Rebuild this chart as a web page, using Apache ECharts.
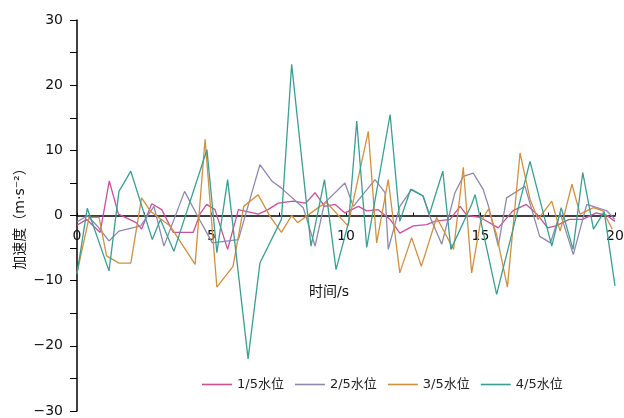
<!DOCTYPE html>
<html>
<head>
<meta charset="utf-8">
<script src="https://cdn.jsdelivr.net/npm/echarts@6/dist/echarts.min.js"></script>
<style>
  html, body { margin: 0; padding: 0; background: #fff; }
  #chart { width: 624px; height: 418px; }
</style>
</head>
<body>
<div id="chart"></div>
<script>
// Series names and colours
const seriesNames = ['1/5水位', '2/5水位', '3/5水位', '4/5水位'];
const seriesColors = ['#c8509c', '#8e88b0', '#d09040', '#3a9e92'];

// [time s, acceleration m/s^2]
const level1 = [
  [0, -1.5], [0.36, -0.6], [0.86, -2.6], [1.2, 5.3], [1.54, 0.2], [2.2, -1.1],
  [2.4, -2.1], [2.78, 1.8], [3.15, 0.9], [3.58, -2.6], [4.32, -2.6], [4.57, 0.2],
  [4.82, 1.7], [5.13, 0.9], [5.6, -5.2], [6.0, 0.9], [6.74, 0.2], [7.1, 0.9],
  [7.48, 1.9], [8.04, 2.2], [8.5, 1.9], [8.85, 3.5], [9.2, 1.4], [9.6, 1.7],
  [9.96, 0.4], [10.46, 1.4], [10.77, 0.7], [11.2, 0.9], [11.64, -0.6], [12.0, -2.7],
  [12.5, -1.6], [13.0, -1.4], [13.3, -0.9], [13.87, -0.6], [14.24, 1.4], [14.5, 0],
  [15.0, -0.3], [15.66, -1.9], [16.2, 0.7], [16.7, 1.7], [17.1, 0.2], [17.5, -1.9],
  [17.8, -1.6], [18.3, -0.6], [18.8, -0.6], [19.3, 0.4], [19.7, 0], [20, -0.9]
];
const level2 = [
  [0, -1], [0.38, 0], [0.75, -1.6], [1.19, -3.9], [1.56, -2.4], [2.06, -1.9],
  [2.37, -1.6], [2.86, 1.4], [3.23, -4.7], [4.0, 3.7], [4.47, 0], [5.03, -4.2],
  [6.0, -3.7], [6.8, 7.8], [7.24, 5.3], [7.6, 4.2], [8.41, 1.2], [8.85, -4.7],
  [9.2, 1.9], [9.96, 5], [10.27, 1.4], [11.08, 5.5], [11.45, 3.5], [11.57, -5.2],
  [12.0, 1.4], [12.44, 4], [12.87, 3], [13.1, 0], [13.56, -4.4], [14.05, 3.5],
  [14.36, 6], [14.73, 6.5], [15.1, 4], [15.3, 1.4], [15.66, -4.7], [15.97, 2.7],
  [16.65, 4.5], [17.2, -3.2], [17.6, -4.2], [17.96, 0.4], [18.45, -6], [18.95, 1.7],
  [19.7, 0.7], [20, -0.6]
];
const level3 = [
  [0, -8.8], [0.45, -0.3], [0.82, -0.3], [1.1, -6.2], [1.56, -7.3], [2.0, -7.3],
  [2.4, 2.7], [2.74, 0.6], [3.46, -1.6], [4.39, -7.5], [4.76, 11.7], [5.2, -11],
  [5.8, -7.8], [6.2, 1.4], [6.73, 3.2], [7.17, -0.1], [7.6, -2.6], [7.98, 0],
  [8.2, -1.1], [9.03, 1.4], [9.28, 2], [10.07, -1.6], [10.83, 12.9], [11.14, -4.2],
  [11.57, 5.5], [12.0, -8.8], [12.44, -3.4], [12.8, -7.8], [13.37, -0.3], [14.0, -5.2],
  [14.36, 7.4], [14.67, -8.8], [15.0, -1], [15.3, 1], [15.6, -3], [16.0, -11],
  [16.47, 9.6], [16.84, 2.5], [17.14, -0.6], [17.65, 2.2], [17.96, -2.4], [18.4, 4.8],
  [18.7, 0.2], [19.2, 1.2], [19.55, 0.7], [19.9, -2.1]
];
const level4 = [
  [0, -9], [0.38, 1.1], [1.19, -8.5], [1.56, 3.7], [2.0, 6.8], [2.8, -3.7],
  [3.1, -0.6], [3.6, -5.5], [4.83, 10.1], [5.2, -5.7], [5.6, 5.5], [6.36, -22],
  [6.8, -7.3], [7.6, -0.6], [7.98, 23.2], [8.7, -4.7], [9.2, 5.5], [9.63, -8.3],
  [10.1, -1], [10.4, 14.5], [10.77, -4.9], [11.64, 15.5], [12.0, -0.9], [12.4, 4.0],
  [12.86, 3], [13.1, 0.2], [13.6, 6.8], [13.9, -5.2], [14.67, 1.7], [14.8, 3.2],
  [15.6, -12.1], [16.84, 8.3], [17.65, -4.7], [18.0, 1.2], [18.44, -5.2], [18.8, 6.6],
  [19.2, -2.1], [19.6, 0.6], [20, -10.8]
];
const allLevels = [level1, level2, level3, level4];

const chart = echarts.init(document.getElementById('chart'));
const font = '"DejaVu Sans", "Noto Sans CJK SC", sans-serif';

const gridTop = 20, gridBottom = 7, height = 418;
// plot spans -30..30 so the zero line sits halfway down the grid
const zeroOffset = -(height - gridTop - gridBottom) / 2;

const option = {
  backgroundColor: '#fff',
  animation: false,
  grid: { left: 77, right: 9, top: gridTop, bottom: gridBottom, outerBoundsMode: 'none', containLabel: false },
  legend: {
    top: 373,
    left: 197,
    itemGap: 11,
    itemWidth: 30,
    itemHeight: 10,
    icon: 'path://M0,5L28,5L28,6.5L0,6.5Z',
    textStyle: { fontFamily: font, fontSize: 13, color: '#222' },
    data: seriesNames
  },
  // x axis title sits under the zero line, not at the plot bottom
  graphic: [{
    type: 'text',
    left: 309,
    top: 285,
    style: { text: '时间/s', font: '14px ' + font, fill: '#111' }
  }],
  xAxis: {
    type: 'value',
    position: 'bottom',
    offset: zeroOffset,
    min: 0, max: 20, interval: 2.5,
    axisLine: { onZero: false, lineStyle: { color: '#000', width: 1.5 } },
    axisTick: { inside: true, length: 3, lineStyle: { color: '#000' } },
    axisLabel: {
      fontFamily: font, fontSize: 14, color: '#111', margin: 14,
      formatter: v => (v % 5 === 0 ? String(v) : '')
    },
    splitLine: { show: false }
  },
  yAxis: {
    type: 'value',
    min: -30, max: 30, interval: 5,
    name: '加速度（m·s⁻²）',
    nameLocation: 'middle',
    nameGap: 50,
    nameMoveOverlap: false,
    nameTextStyle: { fontFamily: font, fontSize: 14, color: '#111' },
    axisLine: { show: true, lineStyle: { color: '#000', width: 1.5 } },
    axisTick: { length: 7, lineStyle: { color: '#000' } },
    axisLabel: {
      fontFamily: font, fontSize: 14, color: '#111', margin: 14,
      formatter: v => (v % 10 === 0 ? String(v).replace('-', '\u2212') : '')
    },
    splitLine: { show: false }
  },
  series: allLevels.map((pts, i) => ({
    name: seriesNames[i],
    type: 'line',
    data: pts,
    showSymbol: false,
    color: seriesColors[i],
    lineStyle: { width: 1.3, color: seriesColors[i] },
    z: 2 + i
  }))
};

chart.setOption(option);
</script>
</body>
</html>
